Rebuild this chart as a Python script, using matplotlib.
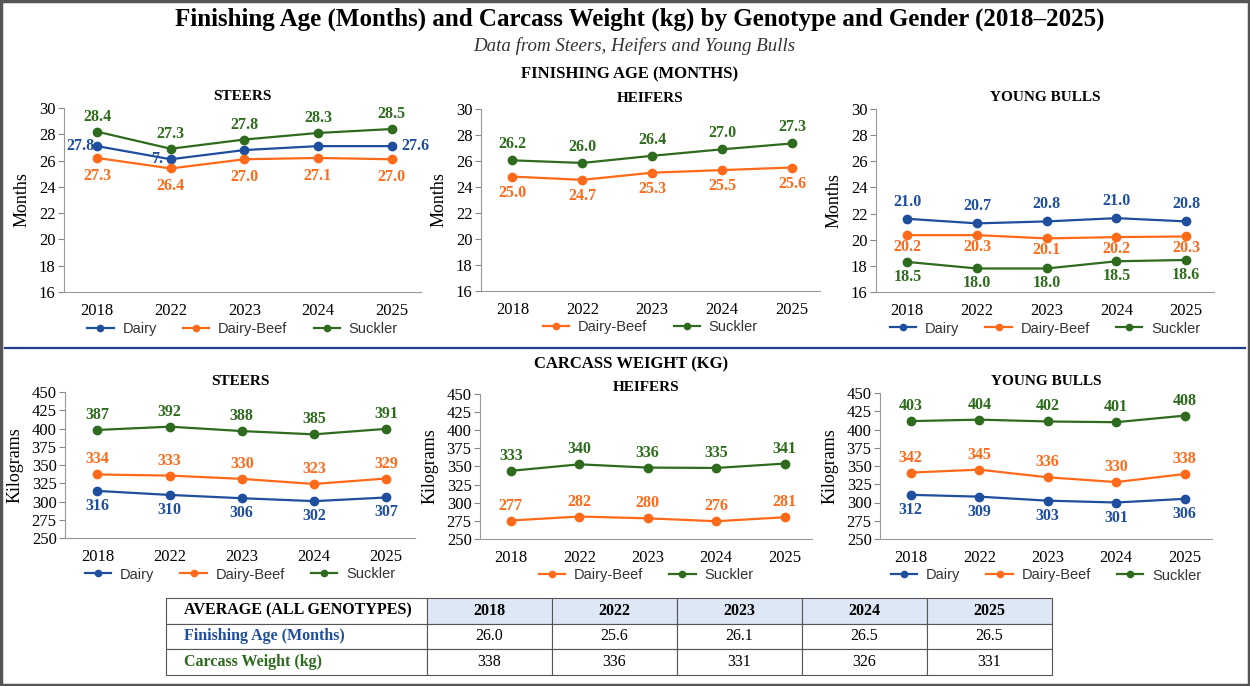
import numpy as np
import matplotlib
matplotlib.use('Agg')
import matplotlib.pyplot as plt
from matplotlib.lines import Line2D
from matplotlib.patches import Rectangle

plt.rcParams['font.family'] = 'Liberation Serif'

years = ['2018', '2022', '2023', '2024', '2025']

# finishing age (months) - point heights as drawn
age_steers_dairy = [27.1, 26.1, 26.8, 27.1, 27.1]
age_steers_dbeef = [26.2, 25.4, 26.1, 26.2, 26.1]
age_steers_suckler = [28.2, 26.9, 27.6, 28.1, 28.4]
age_heifers_dbeef = [24.8, 24.55, 25.1, 25.3, 25.5]
age_heifers_suckler = [26.05, 25.85, 26.4, 26.9, 27.35]
age_bulls_dairy = [21.6, 21.25, 21.4, 21.65, 21.4]
age_bulls_dbeef = [20.35, 20.35, 20.1, 20.2, 20.25]
age_bulls_suckler = [18.3, 17.8, 17.8, 18.35, 18.45]

# finishing age - printed data labels
lab_age_steers_dairy = ['27.8', '7.', '', '', '27.6']
lab_age_steers_dbeef = ['27.3', '26.4', '27.0', '27.1', '27.0']
lab_age_steers_suckler = ['28.4', '27.3', '27.8', '28.3', '28.5']
lab_age_heifers_dbeef = ['25.0', '24.7', '25.3', '25.5', '25.6']
lab_age_heifers_suckler = ['26.2', '26.0', '26.4', '27.0', '27.3']
lab_age_bulls_dairy = ['21.0', '20.7', '20.8', '21.0', '20.8']
lab_age_bulls_dbeef = ['20.2', '20.3', '20.1', '20.2', '20.3']
lab_age_bulls_suckler = ['18.5', '18.0', '18.0', '18.5', '18.6']

# carcass weight (kg) - point heights as drawn
wt_steers_dairy = [314.5, 309, 304.5, 300.5, 305.5]
wt_steers_dbeef = [337, 335.5, 331, 324, 331.5]
wt_steers_suckler = [398, 402.5, 396.5, 392, 399.5]
wt_heifers_dbeef = [275.5, 281, 278.5, 274.5, 280]
wt_heifers_suckler = [344, 353, 348.5, 348, 354]
wt_bulls_dairy = [310.5, 308, 302.5, 300, 305]
wt_bulls_dbeef = [341, 345, 334.5, 328, 339]
wt_bulls_suckler = [411.5, 413.5, 411, 410, 419]

# carcass weight - printed data labels
lab_wt_steers_dairy = ['316', '310', '306', '302', '307']
lab_wt_steers_dbeef = ['334', '333', '330', '323', '329']
lab_wt_steers_suckler = ['387', '392', '388', '385', '391']
lab_wt_heifers_dbeef = ['277', '282', '280', '276', '281']
lab_wt_heifers_suckler = ['333', '340', '336', '335', '341']
lab_wt_bulls_dairy = ['312', '309', '303', '301', '306']
lab_wt_bulls_dbeef = ['342', '345', '336', '330', '338']
lab_wt_bulls_suckler = ['403', '404', '402', '401', '408']

# summary table
table_header = 'AVERAGE (ALL GENOTYPES)'
avg_age = ['26.0', '25.6', '26.1', '26.5', '26.5']
avg_weight = ['338', '336', '331', '326', '331']

c_dairy = '#1f4e9e'
c_dbeef = '#ff6a1a'
c_suck = '#2e6b1e'

W, H = 1250, 686
fig = plt.figure(figsize=(W / 100, H / 100), dpi=100)


def px_axes(l, t, r, b):
    return fig.add_axes([l / W, 1 - b / H, (r - l) / W, (b - t) / H])


def panel(box, title, ylim, yticks, ylabel, series, leg_y, title_pad):
    ax = px_axes(*box)
    x = np.arange(len(years))
    for name, vals, labs, col, dx, dy in series:
        ax.plot(x, vals, color=col, lw=1.6, marker='o', ms=6, label=name, zorder=3)
        if np.isscalar(dx):
            dx = [dx] * len(x)
        for xi, v, t, ddx in zip(x, vals, labs, dx):
            if t:
                ax.annotate(t, (xi, v), xytext=(ddx, dy), textcoords='offset pixels',
                            ha='center', va='center', color=col, fontsize=11.5,
                            fontweight='bold', zorder=2)
    ax.set_xlim(-0.45, 4.4)
    ax.set_ylim(*ylim)
    ax.set_yticks(yticks)
    ax.set_xticks(x)
    ax.set_xticklabels(years)
    ax.tick_params(axis='x', length=0, labelsize=12, pad=8)
    ax.tick_params(axis='y', length=4, color='#888888', labelsize=12, pad=2)
    for s in ['top', 'right']:
        ax.spines[s].set_visible(False)
    for s in ['left', 'bottom']:
        ax.spines[s].set_color('#999999')
    ax.set_ylabel(ylabel, fontsize=13, labelpad=6)
    ax.set_title(title, fontsize=11, fontweight='bold', pad=title_pad)
    leg = ax.legend(loc='center', bbox_to_anchor=(0.5, leg_y), ncol=len(series),
                    frameon=False, prop={'family': 'Liberation Sans', 'size': 10.5},
                    handlelength=1.8, columnspacing=1.8, handletextpad=0.6,
                    markerscale=0.75)
    for t in leg.get_texts():
        t.set_color('#333333')
    return ax


age_ticks = np.arange(16, 31, 2)
wt_ticks = np.arange(250, 451, 25)

# steers dairy labels sit beside the points (left at 2018, right at 2025)
panel((64, 108, 421, 292), 'STEERS', (16, 30), age_ticks, 'Months',
      [('Dairy', age_steers_dairy, lab_age_steers_dairy, c_dairy, [-17, -14, 0, 0, 24], 0),
       ('Dairy-Beef', age_steers_dbeef, lab_age_steers_dbeef, c_dbeef, 0, -18),
       ('Suckler', age_steers_suckler, lab_age_steers_suckler, c_suck, 0, 15)],
      -0.2, 6)
panel((481, 109, 820, 291), 'HEIFERS', (16, 30), age_ticks, 'Months',
      [('Dairy-Beef', age_heifers_dbeef, lab_age_heifers_dbeef, c_dbeef, 0, -16),
       ('Suckler', age_heifers_suckler, lab_age_heifers_suckler, c_suck, 0, 16)],
      -0.2, 5)
panel((876, 109, 1214, 292), 'YOUNG BULLS', (16, 30), age_ticks, 'Months',
      [('Dairy', age_bulls_dairy, lab_age_bulls_dairy, c_dairy, 0, 17),
       ('Dairy-Beef', age_bulls_dbeef, lab_age_bulls_dbeef, c_dbeef, 0, -12),
       ('Suckler', age_bulls_suckler, lab_age_bulls_suckler, c_suck, 0, -15)],
      -0.2, 6)

panel((65, 392, 415, 538), 'STEERS', (250, 450), wt_ticks, 'Kilograms',
      [('Dairy', wt_steers_dairy, lab_wt_steers_dairy, c_dairy, 0, -15),
       ('Dairy-Beef', wt_steers_dbeef, lab_wt_steers_dbeef, c_dbeef, 0, 15),
       ('Suckler', wt_steers_suckler, lab_wt_steers_suckler, c_suck, 0, 15)],
      -0.25, 5)
panel((480, 394, 812, 539), 'HEIFERS', (250, 450), wt_ticks, 'Kilograms',
      [('Dairy-Beef', wt_heifers_dbeef, lab_wt_heifers_dbeef, c_dbeef, 0, 15),
       ('Suckler', wt_heifers_suckler, lab_wt_heifers_suckler, c_suck, 0, 15)],
      -0.25, 2)
panel((880, 393, 1212, 539), 'YOUNG BULLS', (250, 450), wt_ticks, 'Kilograms',
      [('Dairy', wt_bulls_dairy, lab_wt_bulls_dairy, c_dairy, 0, -15),
       ('Dairy-Beef', wt_bulls_dbeef, lab_wt_bulls_dbeef, c_dbeef, 0, 15),
       ('Suckler', wt_bulls_suckler, lab_wt_bulls_suckler, c_suck, 0, 15)],
      -0.25, 6)

# titles
fig.text(640 / W, 1 - 19 / H, 'Finishing Age (Months) and Carcass Weight (kg) by Genotype and Gender (2018\u20132025)',
         ha='center', va='center', fontsize=18, fontweight='bold')
fig.text(634 / W, 1 - 46 / H, 'Data from Steers, Heifers and Young Bulls',
         ha='center', va='center', fontsize=13.6, style='italic', color='#333333')
fig.text(630 / W, 1 - 74 / H, 'FINISHING AGE (MONTHS)', ha='center', va='center',
         fontsize=12, fontweight='bold')
fig.text(631 / W, 1 - 364 / H, 'CARCASS WEIGHT (KG)', ha='center', va='center',
         fontsize=12, fontweight='bold')

# separator and frame
fig.add_artist(Line2D([5 / W, 1245 / W], [1 - 348 / H, 1 - 348 / H], color='#1f3d8a', lw=1.6))
fig.add_artist(Rectangle((1 / W, 1 / H), 1 - 2 / W, 1 - 2 / H, fill=False,
                         edgecolor='#555555', lw=2.5, transform=fig.transFigure))

# summary table
tax = px_axes(166, 598, 1052, 675)
tax.axis('off')
cells = [[table_header] + years,
         ['Finishing Age (Months)'] + avg_age,
         ['Carcass Weight (kg)'] + avg_weight]
col_w = [261] + [125] * len(years)
col_w = [w / sum(col_w) for w in col_w]
tbl = tax.table(cellText=cells, colWidths=col_w, bbox=[0, 0, 1, 1], cellLoc='center')
tbl.auto_set_font_size(False)
for (r, c), cell in tbl.get_celld().items():
    cell.set_edgecolor('#555555')
    cell.set_linewidth(0.8)
    txt = cell.get_text()
    txt.set_fontsize(11.5)
    if r == 0 and c > 0:
        cell.set_facecolor('#dde7f5')
        txt.set_fontweight('bold')
    if c == 0:
        cell.set_text_props(ha='left')
        cell.PAD = 0.07
        txt.set_fontweight('bold')
        if r == 1:
            txt.set_color(c_dairy)
        elif r == 2:
            txt.set_color(c_suck)

plt.savefig('out.png', dpi=100)
